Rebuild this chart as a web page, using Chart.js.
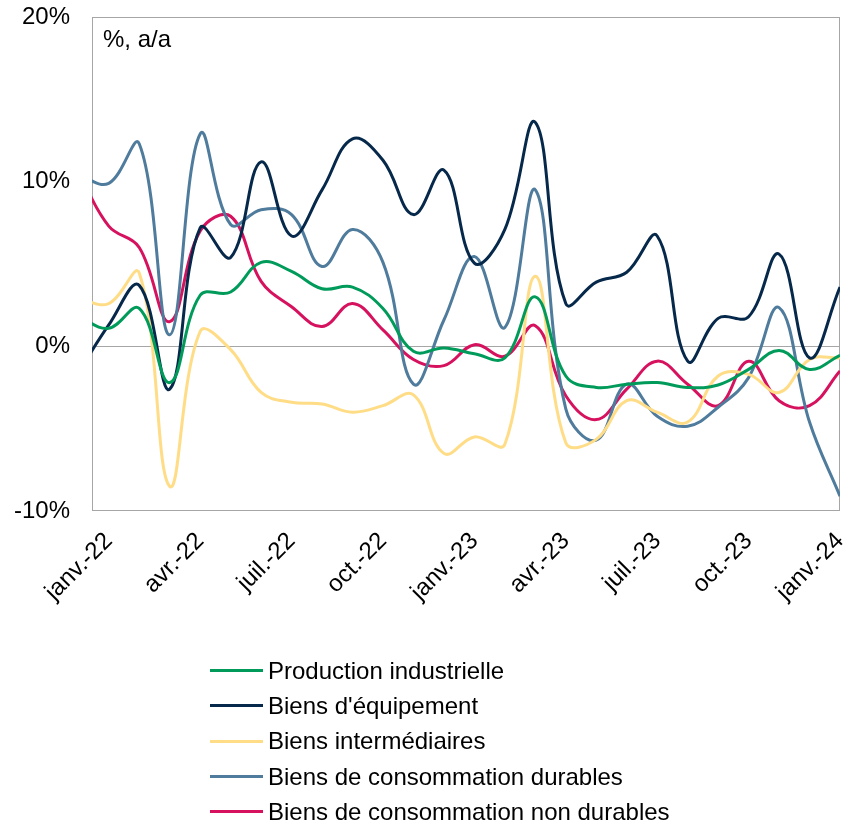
<!DOCTYPE html>
<html lang="fr">
<head>
<meta charset="utf-8">
<title>Production industrielle</title>
<script src="https://cdn.jsdelivr.net/npm/chart.js@4.4.0/dist/chart.umd.min.js"></script>
<style>
  html, body { margin: 0; padding: 0; background: #fff; }
  #wrap { position: relative; width: 857px; height: 824px; }
  #legend { position: absolute; left: 210px; top: 653px; font: 24px "Liberation Sans", Arial, sans-serif; color: #000; }
  .item { height: 35.3px; display: flex; align-items: center; white-space: nowrap; }
  .swatch { width: 53px; height: 3px; margin-right: 5px; }
</style>
</head>
<body>
<div id="wrap">
  <canvas id="chart" width="857" height="824"></canvas>
  <div id="legend"></div>
</div>
<script>
// months, index 0 = déc.-21 (only partly visible at the left edge)
const months = ['déc.-21','janv.-22','févr.-22','mars-22','avr.-22','mai-22','juin-22','juil.-22','août-22','sept.-22','oct.-22','nov.-22','déc.-22',
  'janv.-23','févr.-23','mars-23','avr.-23','mai-23','juin-23','juil.-23','août-23','sept.-23','oct.-23','nov.-23','déc.-23','janv.-24'];
const tickIdx = [1, 4, 7, 10, 13, 16, 19, 22, 25];
const yTicks = [-10, 0, 10, 20];
const unitLabel = '%, a/a';

// values, % a/a
const prodIndus = [1.8, 1.1, 2.3, -2.2, 3.1, 3.3, 5.1, 4.55, 3.5, 3.6, 2.3, -0.3, -0.1, -0.45, -0.7, 3.0, -1.8, -2.5, -2.3, -2.2, -2.5, -2.35, -1.4, -0.25, -1.4, -0.55];
const equipement = [-1.6, 1.3, 3.7, -2.6, 7.2, 5.4, 11.2, 6.7, 9.5, 12.6, 11.3, 8.0, 10.7, 5.05, 7.1, 13.6, 2.6, 3.9, 4.5, 6.7, -0.9, 1.7, 1.8, 5.6, -0.7, 3.6];
const intermediaires = [2.9, 2.6, 4.45, -8.5, 0.9, -0.2, -2.8, -3.4, -3.5, -4.0, -3.6, -2.95, -6.5, -5.5, -5.95, 4.25, -5.85, -5.65, -3.3, -4.0, -4.6, -1.8, -1.7, -2.8, -0.8, -0.7];
const consoDurables = [10.4, 9.9, 12.3, 0.7, 12.9, 7.4, 8.3, 8.0, 4.85, 7.1, 5.1, -2.3, 1.6, 5.45, 1.15, 9.5, -3.8, -5.7, -2.3, -4.25, -4.85, -3.7, -1.9, 2.35, -4.6, -9.1];
const consoNonDurables = [10.6, 7.3, 6.0, 1.5, 7.0, 7.9, 3.95, 2.4, 1.2, 2.6, 1.0, -0.8, -1.17, 0.1, -0.6, 1.25, -3.0, -4.45, -2.6, -0.9, -2.3, -3.6, -0.9, -3.3, -3.6, -1.5];

const seriesNames = ['Production industrielle', "Biens d'équipement", 'Biens intermédiaires', 'Biens de consommation durables', 'Biens de consommation non durables'];
const seriesData = [prodIndus, equipement, intermediaires, consoDurables, consoNonDurables];
const colors = ['#009b5a', '#06284a', '#ffdc86', '#4f7b9c', '#d6125f'];

const FONT = '"Liberation Sans", Arial, sans-serif';

const datasets = seriesData.map((vals, i) => ({
  label: seriesNames[i],
  data: vals.map((v, k) => ({ x: k, y: v })),
  borderColor: colors[i],
  backgroundColor: colors[i],
  borderWidth: 3,
  pointRadius: 0,
  tension: 0.4,
  fill: false
}));

// plot frame + unit label
const frame = {
  id: 'frame',
  beforeDatasetsDraw(chart) {
    const { ctx, chartArea: a } = chart;
    ctx.save();
    ctx.strokeStyle = '#a6a6a6';
    ctx.lineWidth = 1;
    ctx.strokeRect(a.left + 0.5, a.top + 0.5, a.width - 1, a.height - 1);
    ctx.fillStyle = '#000';
    ctx.font = '24px ' + FONT;
    ctx.textBaseline = 'alphabetic';
    ctx.fillText(unitLabel, a.left + 11, a.top + 30);
    ctx.restore();
  }
};

// no extra label overflow padding, the plot box is fixed
function noPad(s) {
  s.paddingTop = 0; s.paddingBottom = 0; s.paddingLeft = 0; s.paddingRight = 0;
}

new Chart(document.getElementById('chart'), {
  type: 'line',
  data: { datasets },
  options: {
    responsive: false,
    animation: false,
    layout: { padding: { left: 0, right: 17, top: 17, bottom: 0 } },
    plugins: { legend: { display: false }, tooltip: { enabled: false } },
    scales: {
      x: {
        type: 'linear',
        min: 0.45,
        max: 25,
        afterFit: s => { s.height = 313; noPad(s); },
        afterBuildTicks: s => { s.ticks = tickIdx.map(v => ({ value: v })); },
        grid: { display: false },
        border: { display: false },
        ticks: {
          autoSkip: false,
          minRotation: 45,
          maxRotation: 45,
          padding: 8,
          color: '#000',
          font: { family: FONT, size: 24 },
          callback: v => months[v] || ''
        }
      },
      y: {
        min: -10,
        max: 20,
        afterFit: s => { s.width = 92; noPad(s); },
        afterBuildTicks: s => { s.ticks = yTicks.map(v => ({ value: v })); },
        grid: {
          drawTicks: false,
          color: c => c.tick && c.tick.value === 0 ? '#a6a6a6' : 'rgba(0,0,0,0)',
          lineWidth: 1
        },
        border: { display: false },
        ticks: {
          padding: 22,
          color: '#000',
          font: { family: FONT, size: 24 },
          callback: v => v + '%'
        }
      }
    }
  },
  plugins: [frame]
});

// legend, one entry per row
const legend = document.getElementById('legend');
seriesNames.forEach((name, i) => {
  const row = document.createElement('div');
  row.className = 'item';
  const sw = document.createElement('span');
  sw.className = 'swatch';
  sw.style.background = colors[i];
  const txt = document.createElement('span');
  txt.textContent = name;
  row.appendChild(sw);
  row.appendChild(txt);
  legend.appendChild(row);
});
</script>
</body>
</html>
